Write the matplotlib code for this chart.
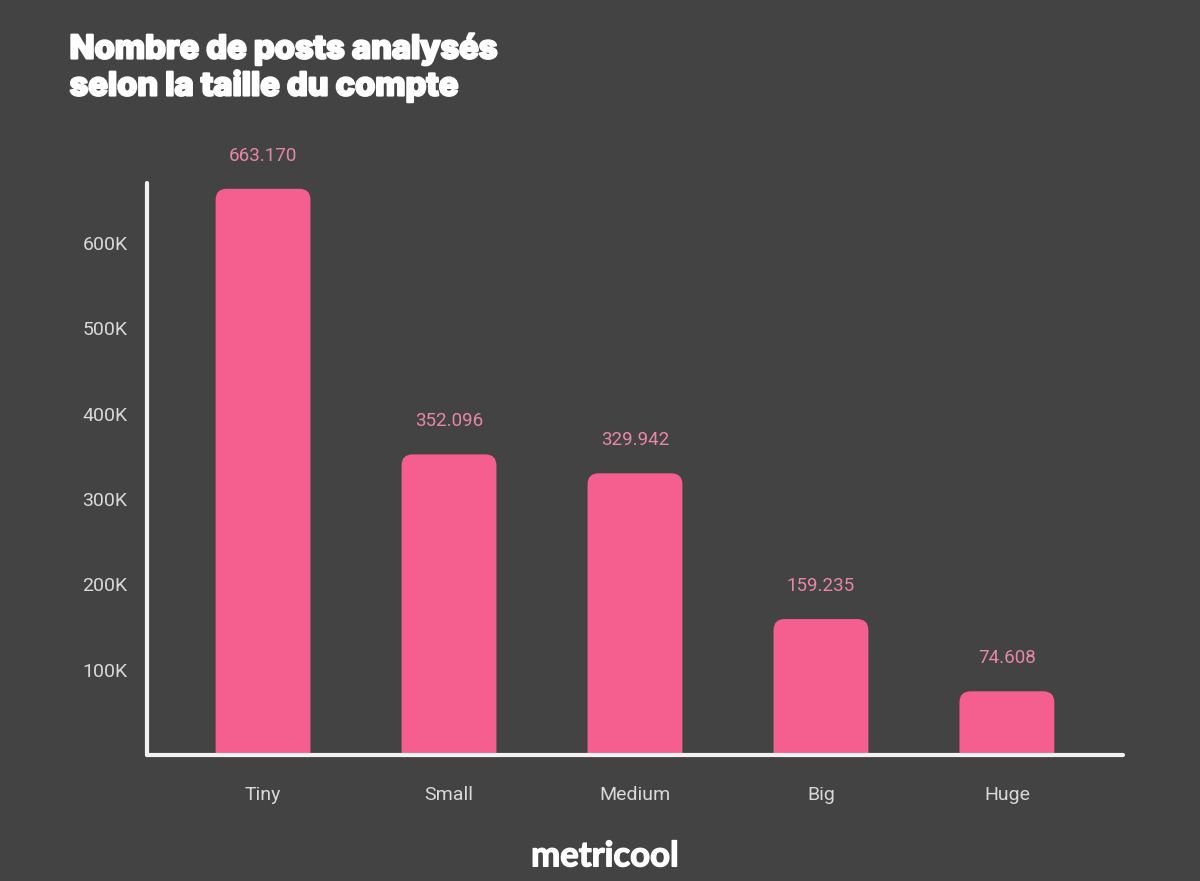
import matplotlib.pyplot as plt
import matplotlib.patheffects as pe
from matplotlib.patches import FancyBboxPatch

categories = ["Tiny", "Small", "Medium", "Big", "Huge"]
posts = [663170, 352096, 329942, 159235, 74608]
value_labels = ["663.170", "352.096", "329.942", "159.235", "74.608"]
ytick_vals = [100000, 200000, 300000, 400000, 500000, 600000]
ytick_labels = ["100K", "200K", "300K", "400K", "500K", "600K"]

bg = "#444343"
pink = "#f45f8f"
label_pink = "#e588a5"
grey = "#d9d9d9"

plt.rcParams['font.family'] = ['Roboto', 'DejaVu Sans']

fig = plt.figure(figsize=(12, 8.81), dpi=100, facecolor=bg)
ax = fig.add_axes([0.1225, 0.143, 0.8133, 0.6493], facecolor=bg)

x = list(range(len(categories)))
ax.set_xlim(-0.624, 4.624)
ax.set_ylim(0, 670000)

# px -> data conversion for rounded corners
px_x = 5.248 / 976
px_y = 670000 / 572
aspect = px_y / px_x

bw = 0.51
for xi, v in zip(x, posts):
    patch = FancyBboxPatch((xi - bw / 2, -40000), bw, v + 40000,
                           boxstyle="round,pad=0,rounding_size=%f" % (11 * px_x),
                           mutation_aspect=aspect, facecolor=pink,
                           edgecolor="none", clip_on=True, zorder=2)
    ax.add_patch(patch)

for xi, v, lab in zip(x, posts, value_labels):
    ax.annotate(lab, (xi, v), xytext=(0, 33), textcoords="offset pixels",
                ha="center", va="center", color=label_pink, fontsize=13.5)

for s in ["top", "right"]:
    ax.spines[s].set_visible(False)
for s in ["left", "bottom"]:
    ax.spines[s].set_color("#f2f2f2")
    ax.spines[s].set_linewidth(3)
    ax.spines[s].set_capstyle("round")
    ax.spines[s].set_zorder(3)

ax.set_yticks(ytick_vals)
ax.set_yticklabels(ytick_labels)
ax.set_xticks(x)
ax.set_xticklabels(categories)
ax.tick_params(axis="y", length=0, pad=14, labelsize=14, labelcolor=grey)
ax.tick_params(axis="x", length=0, pad=22, labelsize=14, labelcolor=grey)

fig.text(0.058, 0.962, "Nombre de posts analysés\nselon la taille du compte",
         ha="left", va="top", color="white", fontsize=23.5, fontweight="heavy",
         family=["Inter", "DejaVu Sans"], linespacing=1.2,
         path_effects=[pe.withStroke(linewidth=1.6, foreground="white")])

fig.text(0.504, 0.028, "metricool", ha="center", va="center", color="white",
         fontsize=25, fontweight="bold", family=["Lato", "DejaVu Sans"],
         path_effects=[pe.withStroke(linewidth=1.0, foreground="white")])

fig.savefig("out.png", facecolor=bg)
